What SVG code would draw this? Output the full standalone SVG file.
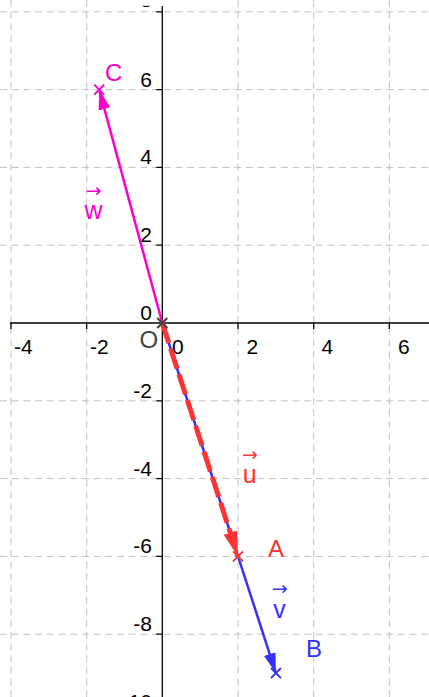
<svg xmlns="http://www.w3.org/2000/svg" xmlns:xlink="http://www.w3.org/1999/xlink" width="429" height="697" viewBox="0 0 429 697">
<style>
text{font-family:"Liberation Sans",Arial,sans-serif}
.grid line{stroke:#c0c0c0;stroke-width:1;stroke-dasharray:7 4.7}
.axis{stroke:#000;stroke-width:1.3}
.tick{stroke:#000;stroke-width:1.3}
.num{font-size:21px;fill:#000}
.ynum{font-size:21px;fill:#000;text-anchor:end}
.plabel{font-size:24px}
.vlet{font-size:25px;text-anchor:middle}
.varr{font-family:"DejaVu Sans",sans-serif;font-size:19px;text-anchor:middle}
.cross{fill:none;stroke-width:2}
</style>
<defs>
<path id="x" d="M-5,-5 L5,5 M-5,5 L5,-5"/>
<clipPath id="view"><rect x="0" y="5.8" width="429" height="697"/></clipPath>
<marker id="ahR" markerUnits="userSpaceOnUse" markerWidth="27" markerHeight="16" refX="25" refY="8" orient="auto"><path d="M0,1 L25,8 L0,15 z" fill="#ff3333"/></marker>
<marker id="ahB" markerUnits="userSpaceOnUse" markerWidth="24" markerHeight="16" refX="20" refY="8" orient="auto"><path d="M0,2 L20,8 L0,14 z" fill="#3333ff"/></marker>
<marker id="ahM" markerUnits="userSpaceOnUse" markerWidth="24" markerHeight="16" refX="20" refY="8" orient="auto"><path d="M0,2 L20,8 L0,14 z" fill="#ff00cc"/></marker>
</defs>
<rect width="429" height="697" fill="#fff"/>
<g id="grid" class="grid">
<line x1="11" y1="0" x2="11" y2="697"/>
<line x1="86.7" y1="0" x2="86.7" y2="697"/>
<line x1="238" y1="0" x2="238" y2="697"/>
<line x1="313.7" y1="0" x2="313.7" y2="697"/>
<line x1="389.3" y1="0" x2="389.3" y2="697"/>
<line x1="0" y1="11.8" x2="429" y2="11.8"/>
<line x1="0" y1="89.6" x2="429" y2="89.6"/>
<line x1="0" y1="167.4" x2="429" y2="167.4"/>
<line x1="0" y1="245.2" x2="429" y2="245.2"/>
<line x1="0" y1="400.8" x2="429" y2="400.8"/>
<line x1="0" y1="478.6" x2="429" y2="478.6"/>
<line x1="0" y1="556.4" x2="429" y2="556.4"/>
<line x1="0" y1="634.2" x2="429" y2="634.2"/>
</g>
<g id="axes">
<line class="axis" x1="10" y1="323" x2="429" y2="323"/>
<line class="axis" x1="162.3" y1="6" x2="162.3" y2="697"/>
<path class="tick" d="M11,323v6 M86.7,323v6 M238,323v6 M313.7,323v6 M389.3,323v6 M162.3,11.8h-6 M162.3,89.6h-6 M162.3,167.4h-6 M162.3,245.2h-6 M162.3,400.8h-6 M162.3,478.6h-6 M162.3,556.4h-6 M162.3,634.2h-6"/>
<text class="num" x="14" y="354">-4</text>
<text class="num" x="90" y="354">-2</text>
<text class="num" x="172" y="354">0</text>
<text class="num" x="246.5" y="354">2</text>
<text class="num" x="321.5" y="354">4</text>
<text class="num" x="398" y="354">6</text>
<g clip-path="url(#view)">
<text class="ynum" x="152" y="7.4">8</text>
</g>
<text class="ynum" x="152" y="86.6">6</text>
<text class="ynum" x="152" y="164.4">4</text>
<text class="ynum" x="152" y="242.2">2</text>
<text class="ynum" x="152" y="320">0</text>
<text class="ynum" x="152" y="397.8">-2</text>
<text class="ynum" x="152" y="475.6">-4</text>
<text class="ynum" x="152" y="553.4">-6</text>
<text class="ynum" x="152" y="631.2">-8</text>
<text class="ynum" x="152" y="709">-10</text>
</g>
<g id="connectors">
<g id="vec-w">
<line x1="162.3" y1="323" x2="99.2" y2="89.6" stroke="#ff00cc" stroke-width="2.5" marker-end="url(#ahM)"/>
<text class="varr" x="93.7" y="196.5" fill="#ff00cc">→</text>
<text class="vlet" x="93.5" y="219.3" fill="#ff00cc">w</text>
</g>
<g id="vec-v">
<line x1="162.3" y1="323" x2="275.9" y2="673.1" stroke="#3333ff" stroke-width="2.5" marker-end="url(#ahB)"/>
<text class="varr" x="279.7" y="594.8" fill="#3333ff">→</text>
<text class="vlet" x="279.5" y="618.3" fill="#3333ff">v</text>
</g>
<g id="vec-u">
<line x1="162.3" y1="323" x2="238" y2="556.4" stroke="#ff3333" stroke-width="5" stroke-dasharray="21 6" marker-end="url(#ahR)"/>
<text class="varr" x="250" y="460.8" fill="#ff3333">→</text>
<text class="vlet" x="249.7" y="483.3" fill="#ff3333">u</text>
</g>
</g>
<g id="node-O">
<use href="#x" xlink:href="#x" x="162.3" y="323" class="cross" stroke="#444"/>
<text class="plabel" x="139.5" y="348.3" fill="#444">O</text>
</g>
<g id="node-A">
<use href="#x" xlink:href="#x" x="238" y="556.4" class="cross" stroke="#ff3333"/>
<text class="plabel" x="268" y="556.7" fill="#ff3333">A</text>
</g>
<g id="node-B">
<use href="#x" xlink:href="#x" x="275.9" y="673.1" class="cross" stroke="#3333ff"/>
<text class="plabel" x="306" y="656.7" fill="#3333ff">B</text>
</g>
<g id="node-C">
<use href="#x" xlink:href="#x" x="99.2" y="89.6" class="cross" stroke="#ff00cc"/>
<text class="plabel" x="105" y="80.7" fill="#ff00cc">C</text>
</g>
</svg>
